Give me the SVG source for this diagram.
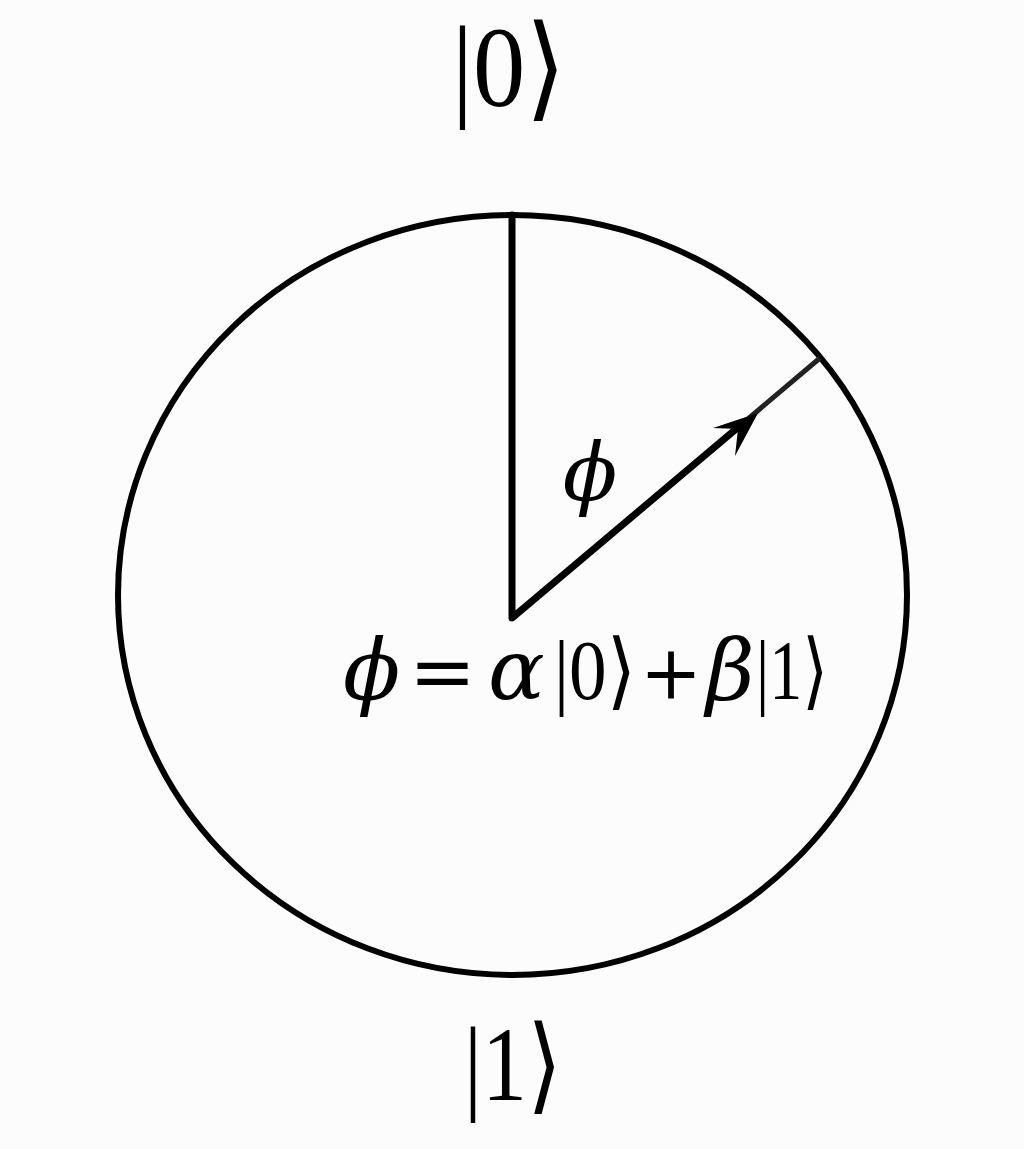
<svg xmlns="http://www.w3.org/2000/svg" width="1024" height="1149" viewBox="0 0 1024 1149">
<style>
.t{font-family:"Liberation Serif","DejaVu Serif",serif;fill:#000}
.g{font-family:"DejaVu Serif","Liberation Serif",serif;font-style:italic}
.b{font-family:"DejaVu Serif","Liberation Serif",serif}
.ln{fill:none;stroke:#000;stroke-linecap:round;stroke-linejoin:round}
</style>
<rect width="1024" height="1149" fill="#fcfcfc"/>
<g id="sphere"><ellipse cx="512.5" cy="595" rx="394.5" ry="380" class="ln" stroke-width="6"/></g>
<g id="connectors">
<polyline class="ln" points="512,215 512,618 742,424" stroke-width="7"/>
<line x1="742" y1="424" x2="820" y2="358" stroke="#222" stroke-width="5"/>
<polygon points="758,413 713,428 738,429 735,456" fill="#000"/>
</g>
<g id="label-top">
<text class="t" x="452" y="106" font-size="114" textLength="114" lengthAdjust="spacingAndGlyphs">|0⟩</text>
</g>
<g id="label-phi"><text class="t g" x="590" y="500" font-size="80" text-anchor="middle">ϕ</text></g>
<g id="equation">
<text class="t" y="699" font-size="84"><tspan class="g" x="343">ϕ</tspan><tspan class="b" x="409" font-size="80">=</tspan><tspan class="g" x="488">α</tspan><tspan x="554" textLength="82" lengthAdjust="spacingAndGlyphs">|0⟩</tspan><tspan class="b" x="640" font-size="74">+</tspan><tspan class="g" x="706">β</tspan><tspan x="756" textLength="72" lengthAdjust="spacingAndGlyphs">|1⟩</tspan></text>
</g>
<g id="label-bottom">
<text class="t" x="464" y="1100" font-size="105" textLength="98" lengthAdjust="spacingAndGlyphs">|1⟩</text>
</g>
</svg>
